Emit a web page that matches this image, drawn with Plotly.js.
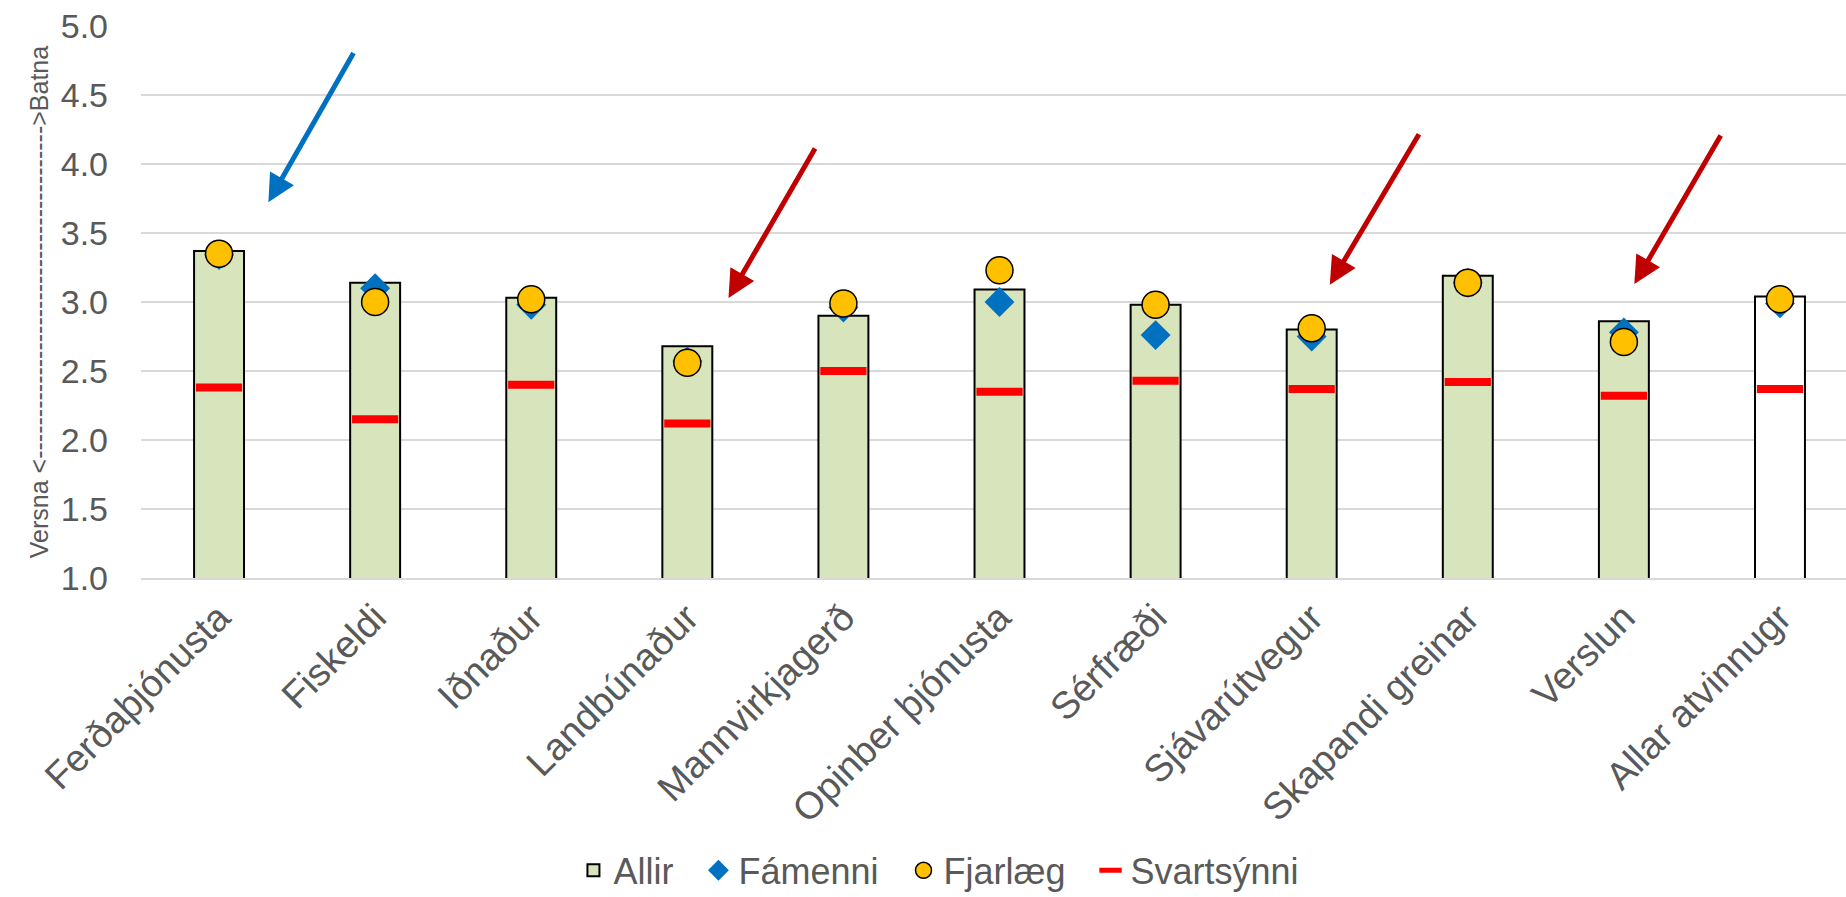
<!DOCTYPE html>
<html>
<head>
<meta charset="utf-8">
<script src="https://cdn.plot.ly/plotly-3.0.1.min.js"></script>
<style>html,body{margin:0;padding:0;background:#fff;}#chart{width:1846px;height:897px;}</style>
</head>
<body>
<div id="chart"></div>
<script>
const categories = ["Ferðaþjónusta","Fiskeldi","Iðnaður","Landbúnaður","Mannvirkjagerð","Opinber þjónusta","Sérfræði","Sjávarútvegur","Skapandi greinar","Verslun","Allar atvinnugr"];
const allir      = [3.37, 3.14, 3.03, 2.68, 2.90, 3.09, 2.98, 2.80, 3.19, 2.86, 3.04];
const famenni    = [3.34, 3.10, 2.98, 2.57, 2.96, 3.00, 2.76, 2.75, 3.14, 2.78, 2.99];
const fjarlaeg   = [3.35, 3.00, 3.02, 2.56, 2.99, 3.23, 2.98, 2.81, 3.14, 2.71, 3.02];
const svartsynni = [2.38, 2.15, 2.40, 2.12, 2.50, 2.35, 2.43, 2.37, 2.42, 2.32, 2.37];
const seriesNames = ["Allir", "Fámenni", "Fjarlæg", "Svartsýnni"];
const yTicks = [1.0, 1.5, 2.0, 2.5, 3.0, 3.5, 4.0, 4.5, 5.0];
const yAxisTitle = "Versna <---------------------------------------->Batna";

const grey = "#595959";
const font = "Liberation Sans, Arial, sans-serif";
const barColors = categories.map((c, i) => i === categories.length - 1 ? "#FFFFFF" : "#D8E4BC");
const pad = "\u00a0\u00a0";

const traces = [
  {type: "bar", name: seriesNames[0] + pad, x: categories, y: allir, width: 0.32,
   marker: {color: barColors, line: {color: "#000000", width: 2}}},
  {type: "scatter", mode: "markers", name: seriesNames[1] + pad, x: categories, y: famenni,
   marker: {symbol: "diamond", size: 23, color: "#0070C0", line: {width: 0}}},
  {type: "scatter", mode: "markers", name: seriesNames[2] + pad, x: categories, y: fjarlaeg,
   marker: {symbol: "circle", size: 27, color: "#FFC000", line: {color: "#000000", width: 1.5}}},
  {type: "scatter", mode: "markers", name: seriesNames[3], x: categories, y: svartsynni,
   marker: {symbol: "line-ew", size: 33, color: "#FF0000", line: {color: "#FF0000", width: 8}}}
];

function arrow(x, y, ax, ay, color) {
  return {x: x, y: y, ax: ax, ay: ay, xref: "x", yref: "y", axref: "x", ayref: "y",
    text: "", showarrow: true, arrowhead: 2, arrowsize: 1.1, arrowwidth: 5, arrowcolor: color, standoff: 0};
}

const layout = {
  width: 1846, height: 897,
  margin: {l: 141, r: 0, t: 26, b: 319, autoexpand: false},
  paper_bgcolor: "#FFFFFF", plot_bgcolor: "#FFFFFF",
  font: {family: font, color: grey, size: 34},
  showlegend: true,
  legend: {orientation: "h", x: 0.468, xanchor: "center", y: -0.584, yanchor: "bottom",
           font: {family: font, size: 36, color: grey}, traceorder: "normal", borderwidth: 0},
  xaxis: {type: "category", range: [-0.5, 10.423], tickangle: -45,
          tickfont: {family: font, size: 38, color: grey}, showgrid: false,
          showline: true, linecolor: "#D9D9D9", linewidth: 2, ticks: "", ticklabelstandoff: 0, fixedrange: true},
  yaxis: {range: [1, 5], tickvals: yTicks, ticktext: yTicks.map(v => v.toFixed(1)),
          tickfont: {family: font, size: 34, color: grey}, showgrid: true, gridcolor: "#D9D9D9", gridwidth: 2,
          zeroline: false, showline: false, ticks: "", ticklabelstandoff: 32,
          title: {text: yAxisTitle, font: {family: font, size: 25, color: grey}, standoff: 4}},
  bargap: 0,
  annotations: [
    arrow(0.316, 3.723, 0.867, 4.815, "#0070C0"),
    arrow(3.264, 3.029, 3.824, 4.124, "#C00000"),
    arrow(7.116, 3.125, 7.693, 4.227, "#C00000"),
    arrow(9.067, 3.130, 9.626, 4.217, "#C00000")
  ]
};

Plotly.newPlot("chart", traces, layout, {displayModeBar: false, staticPlot: true});
</script>
</body>
</html>
